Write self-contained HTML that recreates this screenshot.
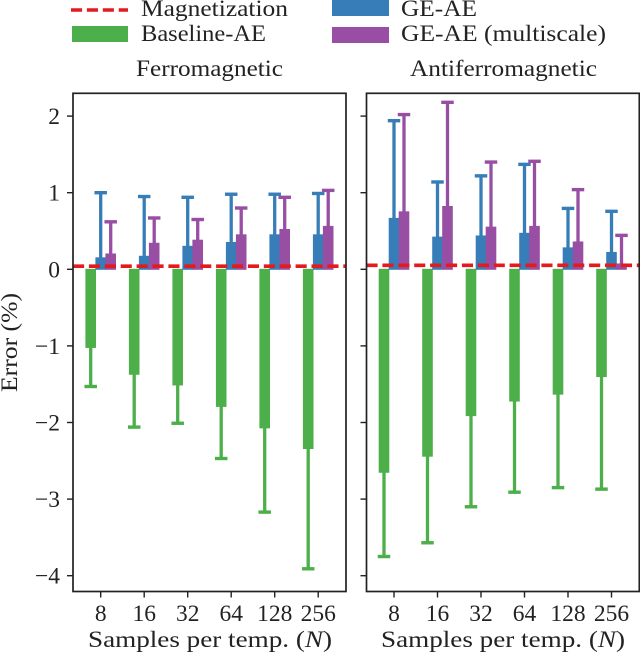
<!DOCTYPE html>
<html lang="en">
<head>
<meta charset="utf-8">
<title>Error by samples per temperature</title>
<style>
html,body{margin:0;padding:0;background:#fff;width:640px;height:653px;overflow:hidden}
svg{display:block}
text{font-family:"Liberation Serif",serif;fill:#222;font-size:23.5px}
</style>
</head>
<body>
<svg id="chart" xmlns="http://www.w3.org/2000/svg" width="640" height="653" viewBox="0 0 640 653">
  <g>
    <line x1="71" y1="10" x2="128" y2="10" stroke="#e41a1c" stroke-width="3.5" stroke-dasharray="11.1 4.8"/>
    <text x="141" y="16" textLength="147" lengthAdjust="spacingAndGlyphs">Magnetization</text>
    <rect x="72" y="26" width="56" height="16" fill="#4daf4a"/>
    <text x="141" y="41" textLength="125" lengthAdjust="spacingAndGlyphs">Baseline-AE</text>
    <rect x="332" y="0" width="57" height="16" fill="#377eb8"/>
    <text x="401" y="16" textLength="76" lengthAdjust="spacingAndGlyphs">GE-AE</text>
    <rect x="332" y="27" width="57" height="16" fill="#984ea3"/>
    <text x="401" y="41" textLength="205" lengthAdjust="spacingAndGlyphs">GE-AE (multiscale)</text>
  </g>
  <text x="136" y="76" textLength="147" lengthAdjust="spacingAndGlyphs">Ferromagnetic</text>
  <text x="410" y="76" textLength="187" lengthAdjust="spacingAndGlyphs">Antiferromagnetic</text>
  <text transform="translate(17,392) rotate(-90)" x="0" y="0" textLength="99" lengthAdjust="spacingAndGlyphs">Error (%)</text>
  <text x="88" y="647" textLength="244" lengthAdjust="spacingAndGlyphs">Samples per temp. (<tspan font-style="italic">N</tspan>)</text>
  <text x="381" y="647" textLength="244" lengthAdjust="spacingAndGlyphs">Samples per temp. (<tspan font-style="italic">N</tspan>)</text>
  <g id="ferro"></g>
  <g id="antiferro"></g>
</svg>
<script>
const categories = ["8", "16", "32", "64", "128", "256"];
const yTicks = [2, 1, 0, -1, -2, -3, -4];

const ferroBaseline = [-1.02, -1.37, -1.51, -1.79, -2.07, -2.34];
const ferroBaselineLow = [-1.53, -2.06, -2.01, -2.47, -3.17, -3.91];
const ferroGe = [0.15, 0.17, 0.30, 0.35, 0.45, 0.45];
const ferroGeHigh = [1.00, 0.95, 0.94, 0.98, 0.98, 0.99];
const ferroMulti = [0.20, 0.34, 0.38, 0.45, 0.52, 0.56];
const ferroMultiHigh = [0.62, 0.67, 0.65, 0.80, 0.94, 1.03];
const ferroMagnetization = 0.04;

const antiBaseline = [-2.65, -2.44, -1.91, -1.72, -1.63, -1.40];
const antiBaselineLow = [-3.75, -3.57, -3.10, -2.91, -2.85, -2.87];
const antiGe = [0.665, 0.42, 0.435, 0.47, 0.28, 0.22];
const antiGeHigh = [1.94, 1.14, 1.22, 1.37, 0.795, 0.757];
const antiMulti = [0.75, 0.82, 0.55, 0.56, 0.357, 0.07];
const antiMultiHigh = [2.02, 2.18, 1.40, 1.41, 1.04, 0.443];
const antiMagnetization = 0.052;

const NS = "http://www.w3.org/2000/svg";
const INK = "#222";
const GREEN = "#4daf4a", BLUE = "#377eb8", PURPLE = "#984ea3", RED = "#e41a1c";
const TOP = 93.3, BOTTOM = 591.5;
const BAR_W = 10.6, STEP = 43.5, CAP = 12.5;

function yScale(v) { return 269.3 - v * 76.6; }

function make(parent, tag) {
  const el = document.createElementNS(NS, tag);
  parent.appendChild(el);
  return el;
}

function setLine(el, x1, y1, x2, y2, color, width) {
  el.setAttribute("x1", x1);
  el.setAttribute("y1", y1);
  el.setAttribute("x2", x2);
  el.setAttribute("y2", y2);
  el.setAttribute("stroke", color);
  el.setAttribute("stroke-width", width);
}

function drawSeries(g, xScale, offset, values, ends, color, seriesName) {
  values.forEach(function (v, i) {
    const cx = xScale(i) + offset;
    const y0 = yScale(0), y1 = yScale(v), yE = yScale(ends[i]);

    const bar = make(g, "rect");
    
    
    bar.setAttribute("x", cx - BAR_W / 2);
    bar.setAttribute("y", Math.min(y0, y1) - 0.5);
    bar.setAttribute("width", BAR_W);
    bar.setAttribute("height", Math.abs(y1 - y0) + 1);
    bar.setAttribute("fill", color);

    const stem = make(g, "line");
    
    
    setLine(stem, cx, y1, cx, yE, color, 3.3);

    const cap = make(g, "line");
    
    
    setLine(cap, cx - CAP / 2, yE, cx + CAP / 2, yE, color, 3.4);
  });
}

function drawPanel(g, left, right, firstTick, showYLabels, p) {
  function xScale(i) { return firstTick + i * STEP; }

  drawSeries(g, xScale, -10, p.baseline, p.baselineLow, GREEN, "baseline-ae");
  drawSeries(g, xScale, 0, p.ge, p.geHigh, BLUE, "ge-ae");
  drawSeries(g, xScale, 10, p.multi, p.multiHigh, PURPLE, "ge-ae-multiscale");

  const mag = make(g, "line");
  
  
  setLine(mag, left, yScale(p.magnetization), right, yScale(p.magnetization), RED, 3.6);
  mag.setAttribute("stroke-dasharray", "11.1 4.8");

  const frame = make(g, "rect");
  
  
  frame.setAttribute("x", left);
  frame.setAttribute("y", TOP);
  frame.setAttribute("width", right - left);
  frame.setAttribute("height", BOTTOM - TOP);
  frame.setAttribute("fill", "none");
  frame.setAttribute("stroke", INK);
  frame.setAttribute("stroke-width", 1.7);

  categories.forEach(function (c, i) {
    const tick = make(g, "line");
    
    
    setLine(tick, xScale(i), BOTTOM, xScale(i), BOTTOM + 6, INK, 1.4);

    const label = make(g, "text");
    
    
    label.setAttribute("x", xScale(i));
    label.setAttribute("y", 621);
    label.setAttribute("text-anchor", "middle");
    label.textContent = c;
  });

  yTicks.forEach(function (t) {
    const tick = make(g, "line");
    
    
    setLine(tick, left - 6, yScale(t), left, yScale(t), INK, 1.4);

    if (showYLabels) {
      const label = make(g, "text");
      
      
      label.setAttribute("x", 60);
      label.setAttribute("y", yScale(t) + 8);
      label.setAttribute("text-anchor", "end");
      label.textContent = t < 0 ? "\u2212" + Math.abs(t) : String(t);
    }
  });
}

drawPanel(document.getElementById("ferro"), 73, 346, 100.7, true, {
  baseline: ferroBaseline, baselineLow: ferroBaselineLow,
  ge: ferroGe, geHigh: ferroGeHigh,
  multi: ferroMulti, multiHigh: ferroMultiHigh,
  magnetization: ferroMagnetization
});
drawPanel(document.getElementById("antiferro"), 366.5, 639.3, 394, false, {
  baseline: antiBaseline, baselineLow: antiBaselineLow,
  ge: antiGe, geHigh: antiGeHigh,
  multi: antiMulti, multiHigh: antiMultiHigh,
  magnetization: antiMagnetization
});
</script>
</body>
</html>
